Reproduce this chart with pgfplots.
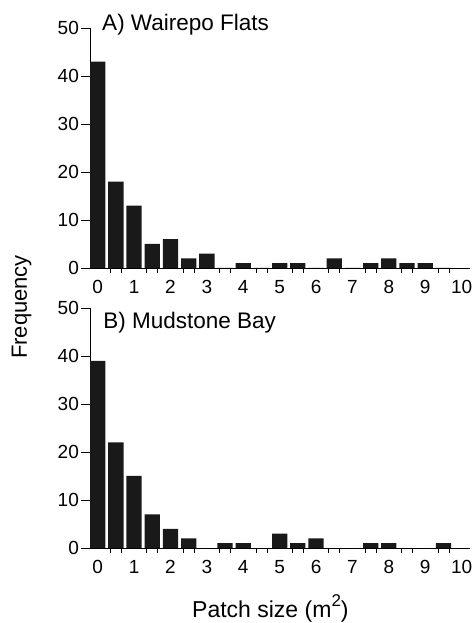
\documentclass[border=0pt]{standalone}
\usepackage{fontspec}
\setmainfont{Liberation Sans}
\usepackage{pgfplots}
\pgfplotsset{compat=1.18}

% bins of 0.5 m^2, counts
\pgfplotstableread{
x    n
0    43
0.5  18
1    13
1.5  5
2    6
2.5  2
3    3
3.5  0
4    1
4.5  0
5    1
5.5  1
6    0
6.5  2
7    0
7.5  1
8    2
8.5  1
9    1
9.5  0
}\wairepo
\pgfplotstableread{
x    n
0    39
0.5  22
1    15
1.5  7
2    4
2.5  2
3    0
3.5  1
4    1
4.5  0
5    3
5.5  1
6    2
6.5  0
7    0
7.5  1
8    1
8.5  0
9    0
9.5  1
}\mudstone

\pgfplotsset{
  hist/.style={
    scale only axis, width=379.6pt, height=240pt,
    xmin=-0.2, xmax=10.23, ymin=0, ymax=50,
    clip=false,
    axis x line=bottom, axis y line=left,
    axis line style={-, line width=0.8pt},
    tick align=outside,
    major tick length=9pt, minor tick length=5pt,
    tick style={line width=0.7pt, black},
    xtick={0,1,...,10}, ytick={0,10,...,50},
    major x tick style={draw=none},
    minor xtick={0.35,0.65,1.35,1.65,2.35,2.65,3.35,3.65,4.35,4.65,5.35,5.65,6.35,6.65,7.35,7.65,8.35,8.65,9.35,9.65},
    /pgf/number format/assume math mode=true,
    ticklabel style={font=\fontsize{19}{21}\selectfont},
    xticklabel style={yshift=0pt},
    yticklabel style={xshift=1pt},
    ybar, bar width=0.42,
  }
}

\begin{document}
\begin{tikzpicture}
\path[use as bounding box] (-90.4pt,-75pt) rectangle (383.6pt,548pt);

\begin{axis}[hist, at={(0pt,280pt)}]
\addplot[fill=black!90, draw=none] table[x=x, y=n] {\wairepo};
\node[anchor=base west, font=\fontsize{22.5}{26}\selectfont, inner sep=0pt]
  at (axis cs:0.12,49.4) {A) Wairepo Flats};
\end{axis}

\begin{axis}[hist, at={(0pt,0pt)}]
\addplot[fill=black!90, draw=none] table[x=x, y=n] {\mudstone};
\node[anchor=base west, font=\fontsize{22.5}{26}\selectfont, inner sep=0pt]
  at (axis cs:0.15,45.8) {B) Mudstone Bay};
\end{axis}

\node[rotate=90, anchor=base, font=\fontsize{22}{26}\selectfont, inner sep=0pt]
  at (-63.4pt,241pt) {Frequency};
\node[anchor=base, font=\fontsize{23}{27}\selectfont, inner sep=0pt]
  at (180pt,-69pt) {Patch size (m\raisebox{0.45em}{\fontsize{17}{19}\selectfont 2})};
\end{tikzpicture}
\end{document}
